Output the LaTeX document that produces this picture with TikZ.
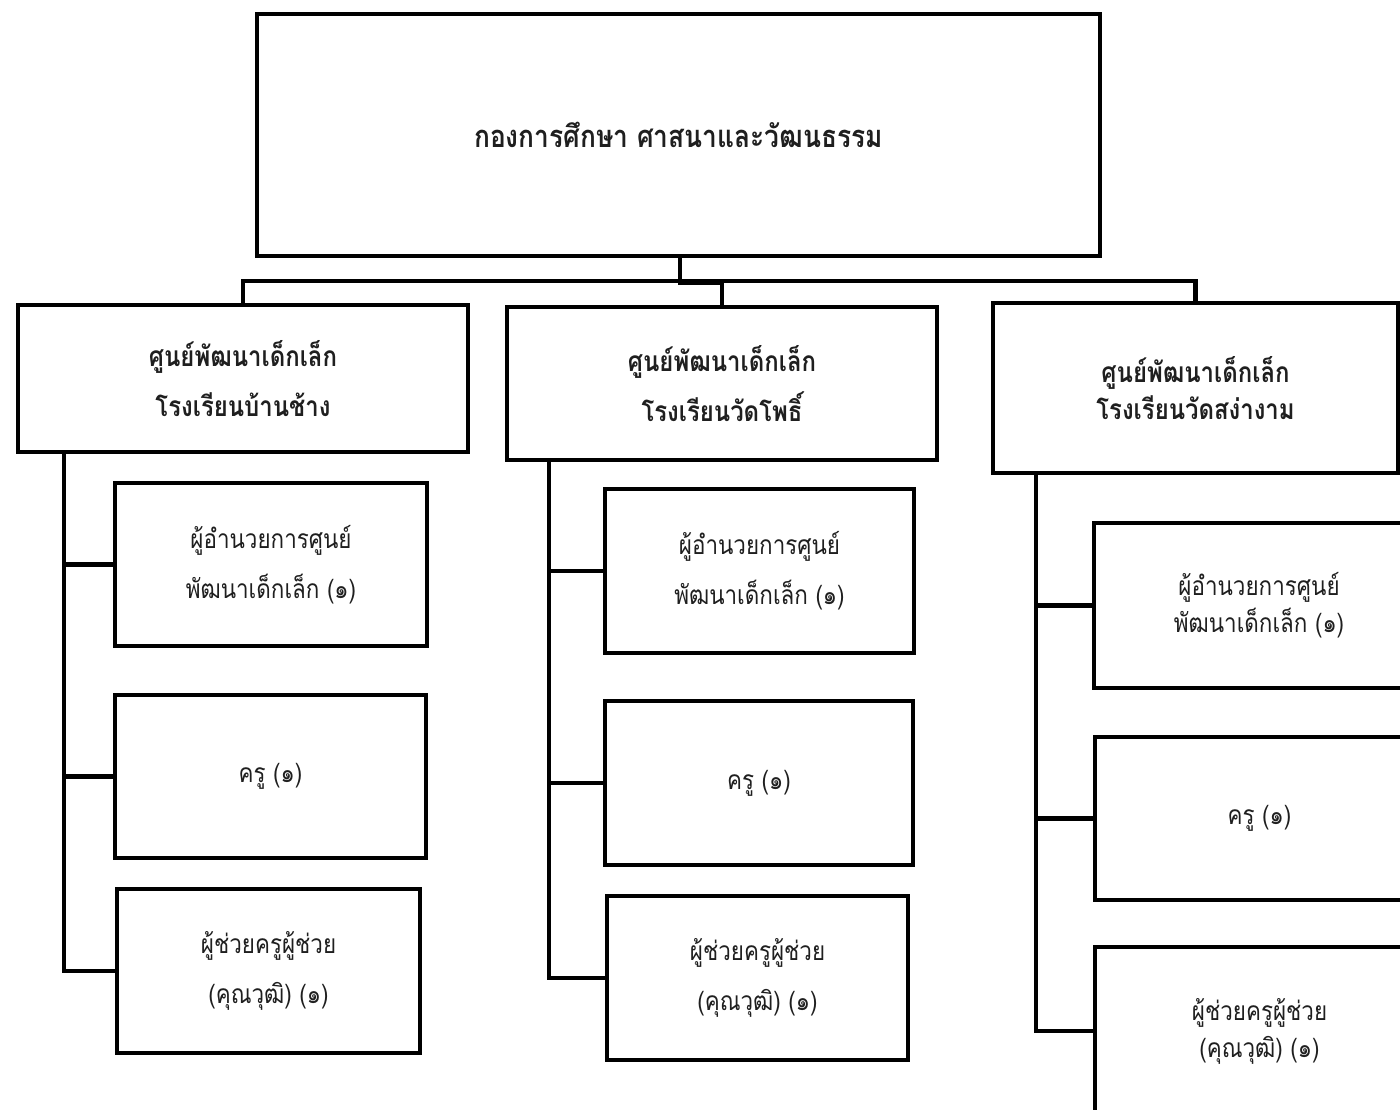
\documentclass[tikz,border=0pt]{standalone}
\usepackage{fontspec}
\newfontfamily\thai[Script=Thai,FakeStretch=0.85]{Loma}
\begin{document}
\begin{tikzpicture}[x=0.01cm,y=-0.01cm,
  box/.style={draw, line width=1.2pt, rectangle, inner sep=0pt, outer sep=0pt, align=center, text=black!88},
  conn/.style={line width=1.2pt, line join=miter},
  ttl/.style={font=\thai\bfseries\fontsize{8.8}{14}\selectfont},
  hd/.style={font=\thai\bfseries\fontsize{8}{14.2}\selectfont},
  hdr/.style={font=\thai\bfseries\fontsize{8}{10.5}\selectfont},
  ch/.style={font=\thai\fontsize{7.5}{14.2}\selectfont},
  chr/.style={font=\thai\fontsize{7.5}{10.5}\selectfont}]
\useasboundingbox (0,0) rectangle (1400,1109);
\clip (0,0) rectangle (1400,1109);
\fill[white] (0,0) rectangle (1400,1109);
% top
\node[box,ttl,minimum width=8.43cm,minimum height=2.42cm] (top) at (678.5,135) {กองการศึกษา ศาสนาและวัฒนธรรม};
% level 2
\node[box,hd,minimum width=4.50cm,minimum height=1.47cm] (L) at (243,378.5) {ศูนย์พัฒนาเด็กเล็ก\\โรงเรียนบ้านช้าง};
\node[box,hd,minimum width=4.30cm,minimum height=1.53cm] (M) at (722,383.5) {ศูนย์พัฒนาเด็กเล็ก\\โรงเรียนวัดโพธิ์};
\node[box,hdr,minimum width=4.05cm,minimum height=1.70cm] (R) at (1195.5,388) {ศูนย์พัฒนาเด็กเล็ก\\โรงเรียนวัดสง่างาม};
% children left
\node[box,ch,minimum width=3.12cm,minimum height=1.63cm] (L1) at (271,564.5) {ผู้อำนวยการศูนย์\\พัฒนาเด็กเล็ก (๑)};
\node[box,ch,minimum width=3.11cm,minimum height=1.63cm] (L2) at (270.5,776.5) {ครู (๑)};
\node[box,ch,minimum width=3.03cm,minimum height=1.64cm] (L3) at (268.5,971) {ผู้ช่วยครูผู้ช่วย\\(คุณวุฒิ) (๑)};
% children middle
\node[box,ch,minimum width=3.09cm,minimum height=1.64cm] (M1) at (759.5,571) {ผู้อำนวยการศูนย์\\พัฒนาเด็กเล็ก (๑)};
\node[box,ch,minimum width=3.08cm,minimum height=1.64cm] (M2) at (759,783) {ครู (๑)};
\node[box,ch,minimum width=3.01cm,minimum height=1.64cm] (M3) at (757.5,978) {ผู้ช่วยครูผู้ช่วย\\(คุณวุฒิ) (๑)};
% children right
\node[box,chr,minimum width=3.30cm,minimum height=1.65cm] (R1) at (1259,605.5) {ผู้อำนวยการศูนย์\\พัฒนาเด็กเล็ก (๑)};
\node[box,chr,minimum width=3.29cm,minimum height=1.63cm] (R2) at (1259.5,818.5) {ครู (๑)};
\node[box,chr,minimum width=3.29cm,minimum height=1.68cm] (R3) at (1259.5,1031) {ผู้ช่วยครูผู้ช่วย\\(คุณวุฒิ) (๑)};
% top connectors
\coordinate (bus) at (680,281);
\draw[conn] (top.south -| bus) -- ++(0,27) -| (M.north);
\draw[conn] (L.north) |- (bus) -| (R.north);
\draw[conn] (bus) -- (top.south -| bus);
% left column
\coordinate (lv) at (64,452);
\draw[conn] (lv) |- (L3.west);
\draw[conn] (L1.west) -- (L1.west -| lv);
\draw[conn] (L2.west) -- (L2.west -| lv);
% middle column
\coordinate (mv) at (549,460);
\draw[conn] (mv) |- (M3.west);
\draw[conn] (M1.west) -- (M1.west -| mv);
\draw[conn] (M2.west) -- (M2.west -| mv);
% right column
\coordinate (rv) at (1036,473);
\draw[conn] (rv) |- (R3.west);
\draw[conn] (R1.west) -- (R1.west -| rv);
\draw[conn] (R2.west) -- (R2.west -| rv);
\end{tikzpicture}
\end{document}
